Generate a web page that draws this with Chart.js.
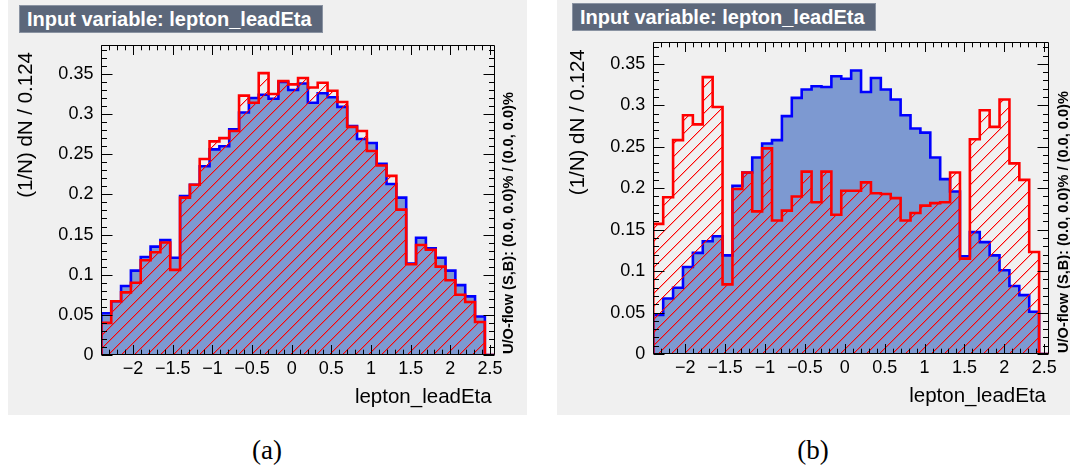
<!DOCTYPE html>
<html>
<head>
<meta charset="utf-8">
<script src="https://cdn.jsdelivr.net/npm/chart.js@4.4.1/dist/chart.umd.min.js"></script>
<style>
  html, body { margin: 0; padding: 0; background: #ffffff; }
  body { position: relative; width: 1070px; height: 469px; overflow: hidden; font-family: "Liberation Sans", Arial, sans-serif; }
  .panel { position: absolute; background: #f0f0f0; }
  .panel canvas { position: absolute; left: 0; top: 0; }
  .tag { position: absolute; box-sizing: border-box; width: 304px; height: 28px; background: #5c677a; border: 1px solid #8a93a2;
         color: #ffffff; font-weight: bold; font-size: 20px; line-height: 26px; padding-left: 7px; white-space: nowrap; }
  .caption { position: absolute; width: 100px; text-align: center; font-family: "Liberation Serif", "DejaVu Serif", serif; font-size: 27px; line-height: 30px; color: #000; }
</style>
</head>
<body>
<div class="panel" id="panelA" style="left:8px;top:0;width:519px;height:415px;"><canvas id="chartA" width="519" height="415"></canvas></div>
<div class="panel" id="panelB" style="left:557px;top:0;width:513px;height:415px;"><canvas id="chartB" width="513" height="415"></canvas></div>
<div class="tag" style="left:19px;top:5px;">Input variable: lepton_leadEta</div>
<div class="tag" style="left:572px;top:3px;">Input variable: lepton_leadEta</div>
<div class="caption" style="left:217px;top:435px;">(a)</div>
<div class="caption" style="left:763px;top:435px;">(b)</div>

<script>
// Binning of lepton_leadEta: 40 bins of width 0.124 starting at -2.4
const X_MIN = -2.4;
const BIN_WIDTH = 0.124;
const N_BINS = 40;

const X_TICKS = [-2, -1.5, -1, -0.5, 0, 0.5, 1, 1.5, 2, 2.5];
const Y_TICKS = [0, 0.05, 0.1, 0.15, 0.2, 0.25, 0.3, 0.35];

// (a) normalised distributions, signal (blue) and background (red)
const signalA = [
  0.052, 0.067, 0.086, 0.105, 0.122, 0.135, 0.143, 0.121, 0.198, 0.212,
  0.235, 0.256, 0.260, 0.281, 0.302, 0.320, 0.324, 0.319, 0.340, 0.330,
  0.338, 0.314, 0.326, 0.321, 0.309, 0.285, 0.269, 0.264, 0.238, 0.213,
  0.196, 0.114, 0.146, 0.133, 0.121, 0.105, 0.087, 0.073, 0.048, 0
];
const backgroundA = [
  0.040, 0.067, 0.078, 0.090, 0.118, 0.128, 0.140, 0.106, 0.196, 0.212,
  0.244, 0.266, 0.270, 0.279, 0.323, 0.314, 0.351, 0.325, 0.341, 0.337,
  0.345, 0.333, 0.339, 0.329, 0.315, 0.284, 0.279, 0.254, 0.236, 0.223,
  0.181, 0.113, 0.137, 0.131, 0.110, 0.093, 0.075, 0.066, 0.041, 0
];

// (b) normalised distributions, signal (blue) and background (red)
const signalB = [
  0.047, 0.067, 0.080, 0.105, 0.122, 0.136, 0.142, 0.119, 0.203, 0.219,
  0.237, 0.254, 0.258, 0.287, 0.309, 0.319, 0.323, 0.322, 0.335, 0.332,
  0.342, 0.316, 0.333, 0.319, 0.307, 0.288, 0.272, 0.267, 0.237, 0.211,
  0.196, 0.118, 0.147, 0.135, 0.119, 0.101, 0.082, 0.071, 0.051, 0
];
const backgroundB = [
  0.157, 0.189, 0.258, 0.288, 0.277, 0.334, 0.298, 0.084, 0.199, 0.219,
  0.172, 0.248, 0.161, 0.173, 0.190, 0.220, 0.183, 0.220, 0.168, 0.197,
  0.197, 0.207, 0.194, 0.193, 0.188, 0.161, 0.170, 0.179, 0.182, 0.183,
  0.219, 0.115, 0.259, 0.294, 0.274, 0.307, 0.230, 0.210, 0.123, 0
];

const Y_MAX_A = 0.386;
const Y_MAX_B = 0.376;

const FONT = '"Liberation Sans", Arial, sans-serif';

// Histogram outline as step points: closed down to zero at both ends
function histPoints(values) {
  const xEnd = X_MIN + N_BINS * BIN_WIDTH;
  const pts = [{ x: X_MIN, y: 0 }];
  values.forEach((v, i) => pts.push({ x: X_MIN + i * BIN_WIDTH, y: v }));
  pts.push({ x: xEnd, y: values[values.length - 1] });
  pts.push({ x: xEnd, y: 0 });
  return pts;
}

// Red diagonal hatching for the background histogram (crisp pixel staircase)
function hatchPattern() {
  const s = 13;
  const c = document.createElement('canvas');
  c.width = s; c.height = s;
  const g = c.getContext('2d');
  for (let i = 0; i < s; i++) {
    g.fillStyle = '#ff0000';
    g.fillRect(i, s - 1 - i, 1, 1);
    g.fillStyle = 'rgba(255,0,0,0.3)';
    g.fillRect((i + 1) % s, s - 1 - i, 1, 1);
  }
  return g.createPattern(c, 'repeat');
}

// Frame, inward tick marks on all four sides, axis titles and flow note
const rootFrame = {
  id: 'rootFrame',
  afterDatasetsDraw(chart) {
    const { ctx, chartArea: a, scales } = chart;
    const xs = scales.x, ys = scales.y;
    ctx.save();
    ctx.strokeStyle = '#000';
    ctx.lineWidth = 1;
    ctx.beginPath();
    const L = Math.round(a.left) + 0.5, R = Math.round(a.right) - 0.5;
    const T = Math.round(a.top) + 0.5, B = Math.round(a.bottom) - 0.5;
    ctx.rect(L, T, R - L, B - T);
    // x ticks every 0.1, major every 0.5
    for (let k = -24; k <= 25; k++) {
      const px = Math.round(xs.getPixelForValue(k / 10)) + 0.5;
      const len = (k % 5 === 0) ? 9.5 : 4.8;
      ctx.moveTo(px, B); ctx.lineTo(px, B - len);
      ctx.moveTo(px, T); ctx.lineTo(px, T + len);
    }
    // y ticks every 0.01, major every 0.05
    for (let k = 0; k / 100 <= ys.max; k++) {
      const py = Math.round(ys.getPixelForValue(k / 100)) + 0.5;
      const len = (k % 5 === 0) ? 11 : 5.5;
      ctx.moveTo(L, py); ctx.lineTo(L + len, py);
      ctx.moveTo(R, py); ctx.lineTo(R - len, py);
    }
    ctx.stroke();

    ctx.fillStyle = '#000';
    // y-axis title
    ctx.save();
    ctx.translate(a.left - 75, a.top + 7);
    ctx.rotate(-Math.PI / 2);
    ctx.font = '20.5px ' + FONT;
    ctx.textAlign = 'right';
    ctx.textBaseline = 'middle';
    ctx.fillText('(1/N) dN / 0.124', 0, 0);
    ctx.restore();
    // x-axis title
    ctx.font = '20.5px ' + FONT;
    ctx.textAlign = 'right';
    ctx.textBaseline = 'middle';
    ctx.fillText('lepton_leadEta', a.right - 3, a.bottom + 42);
    // under/overflow note
    ctx.save();
    ctx.translate(a.right + 14.5, a.bottom - 1);
    ctx.rotate(-Math.PI / 2);
    ctx.font = 'bold 14.6px ' + FONT;
    ctx.textAlign = 'left';
    ctx.textBaseline = 'middle';
    ctx.fillText('U/O-flow (S,B): (0.0, 0.0)% / (0.0, 0.0)%', 0, 0);
    ctx.restore();
    ctx.restore();
  }
};

function makeChart(id, signal, background, yMax, geom) {
  const hatch = hatchPattern();
  return new Chart(document.getElementById(id), {
    type: 'line',
    data: {
      datasets: [
        {
          label: 'Background',
          data: histPoints(background),
          stepped: true,
          borderColor: '#ff0000',
          borderWidth: 2.6,
          backgroundColor: hatch,
          fill: 'origin',
          pointRadius: 0,
          borderJoinStyle: 'miter',
          order: 0
        },
        {
          label: 'Signal',
          data: histPoints(signal),
          stepped: true,
          borderColor: '#0000ff',
          borderWidth: 2.6,
          backgroundColor: '#7d99d1',
          fill: 'origin',
          pointRadius: 0,
          borderJoinStyle: 'miter',
          order: 1
        }
      ]
    },
    options: {
      responsive: false,
      animation: false,
      events: [],
      layout: { padding: { left: 0, top: geom.top, right: geom.right, bottom: 0 } },
      plugins: { legend: { display: false }, tooltip: { enabled: false }, title: { display: false } },
      scales: {
        x: {
          type: 'linear',
          min: X_MIN,
          max: X_MIN + N_BINS * BIN_WIDTH,
          grid: { display: false, drawTicks: false },
          border: { display: false },
          afterBuildTicks: s => { s.ticks = X_TICKS.map(v => ({ value: v })); },
          afterFit: s => { s.height = geom.xHeight; },
          ticks: {
            autoSkip: false, maxRotation: 0, padding: 3, color: '#000',
            font: { family: FONT, size: 18 },
            callback: v => {
              const s = String(Math.abs(Math.round(v * 10) / 10));
              return v < -1e-9 ? '\u2212' + s : s;
            }
          }
        },
        y: {
          type: 'linear',
          min: 0,
          max: yMax,
          grid: { display: false, drawTicks: false },
          border: { display: false },
          afterBuildTicks: s => { s.ticks = Y_TICKS.map(v => ({ value: v })); },
          afterFit: s => { s.width = geom.yWidth; },
          ticks: {
            autoSkip: false, padding: 8, color: '#000',
            font: { family: FONT, size: 18 },
            callback: v => String(Math.round(v * 100) / 100)
          }
        }
      }
    },
    plugins: [rootFrame]
  });
}

makeChart('chartA', signalA, backgroundA, Y_MAX_A, { top: 45, right: 32.3, xHeight: 60, yWidth: 93.4 });
makeChart('chartB', signalB, backgroundB, Y_MAX_B, { top: 42.3, right: 21, xHeight: 61, yWidth: 96.3 });
</script>
</body>
</html>
